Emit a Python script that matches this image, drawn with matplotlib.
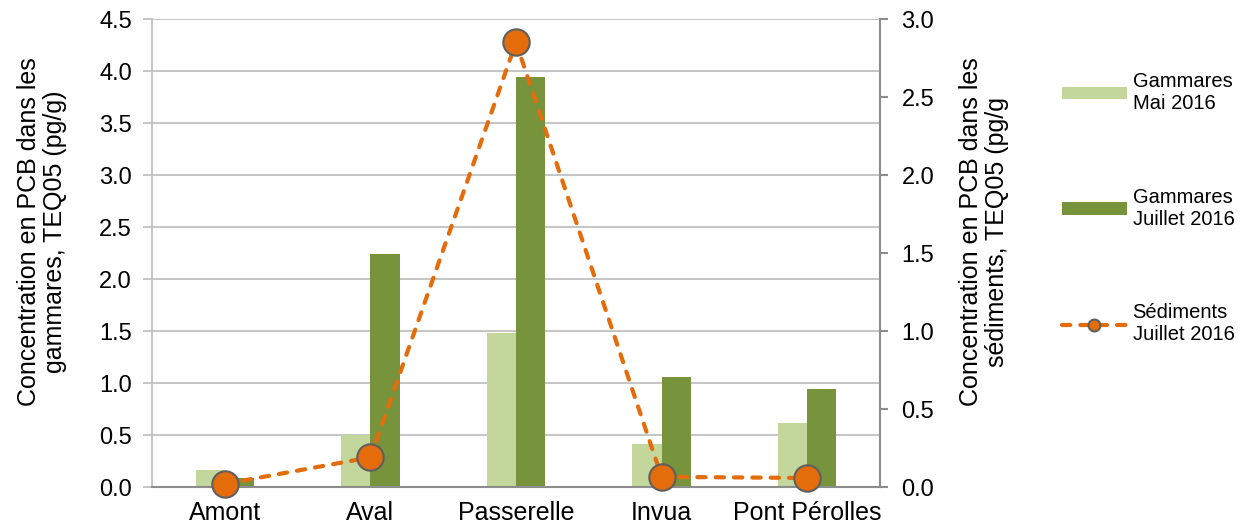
import matplotlib.pyplot as plt
import numpy as np

plt.rcParams['font.family'] = ['Liberation Sans', 'DejaVu Sans']

# data
sites = ['Amont', 'Aval', 'Passerelle', 'Invua', 'Pont Pérolles']
gammares_mai = [0.16, 0.50, 1.48, 0.41, 0.62]
gammares_juillet = [0.09, 2.24, 3.94, 1.06, 0.94]
sediments_juillet = [0.02, 0.19, 2.85, 0.065, 0.058]
left_ticks = [0.0, 0.5, 1.0, 1.5, 2.0, 2.5, 3.0, 3.5, 4.0, 4.5]
right_ticks = [0.0, 0.5, 1.0, 1.5, 2.0, 2.5, 3.0]

light_green = '#C3D69B'
dark_green = '#77933C'
orange = '#E46C0A'
grid_col = '#C0C0C0'
axis_col = '#8C8C8C'

fig = plt.figure(figsize=(12.45, 5.32), dpi=100)
ax = fig.add_axes([152 / 1245, 1 - 487 / 532, 728 / 1245, 468 / 532])

x = np.arange(len(sites))
w = 0.2
b1 = ax.bar(x - w / 2, gammares_mai, w, color=light_green, zorder=2)
b2 = ax.bar(x + w / 2, gammares_juillet, w, color=dark_green, zorder=2)

ax.set_xlim(-0.5, len(sites) - 0.5)
ax.set_ylim(0, 4.5)
ax.set_yticks(left_ticks)
ax.set_yticklabels([f'{v:.1f}' for v in left_ticks])
ax.yaxis.grid(True, color=grid_col, linewidth=1.3, zorder=0)
ax.set_axisbelow(True)
ax.set_xticks(x)
ax.set_xticklabels(sites, fontsize=18)
ax.tick_params(axis='x', length=0, pad=10)
ax.tick_params(axis='y', length=6.5, color=grid_col, width=1.3, labelsize=17, pad=8)
for s in ['top', 'right']:
    ax.spines[s].set_visible(False)
ax.spines['left'].set_color(grid_col)
ax.spines['left'].set_linewidth(1.3)
ax.spines['bottom'].set_color(axis_col)
ax.spines['bottom'].set_linewidth(1.5)
ax.set_ylabel('Concentration en PCB dans les\ngammares, TEQ05 (pg/g)', fontsize=18, linespacing=1.1)
ax.yaxis.set_label_coords(-0.117, 0.545)

ax2 = ax.twinx()
ax2.set_ylim(0, 3.0)
ax2.set_yticks(right_ticks)
ax2.set_yticklabels([f'{v:.1f}' for v in right_ticks])
ln, = ax2.plot(x, sediments_juillet, color=orange, linestyle=(0, (2, 2.4)), linewidth=3,
               dash_capstyle='round', marker='o', markersize=19, markerfacecolor=orange,
               markeredgecolor='#5F5F5F', markeredgewidth=1.5, zorder=3, clip_on=False)
for s in ['top', 'left', 'bottom']:
    ax2.spines[s].set_visible(False)
ax2.spines['right'].set_color(axis_col)
ax2.spines['right'].set_linewidth(1.5)
ax2.tick_params(axis='y', length=5.5, color=axis_col, width=1.5, labelsize=17, pad=10)
ax2.set_ylabel('Concentration en PCB dans les\nsédiments, TEQ05 (pg/g', fontsize=18, linespacing=1.1)
ax2.yaxis.set_label_coords(1.108, 0.545)

fig.legend([b1, b2, ln], ['Gammares\nMai 2016', 'Gammares\nJuillet 2016', 'Sédiments\nJuillet 2016'],
           loc='upper left', bbox_to_anchor=(1044 / 1245, 1 - 54 / 532), frameon=False,
           fontsize=14.5, labelspacing=3.7, handlelength=3.2, handleheight=0.55,
           handletextpad=0.3, markerscale=0.45)

fig.savefig('out.png', dpi=100)
